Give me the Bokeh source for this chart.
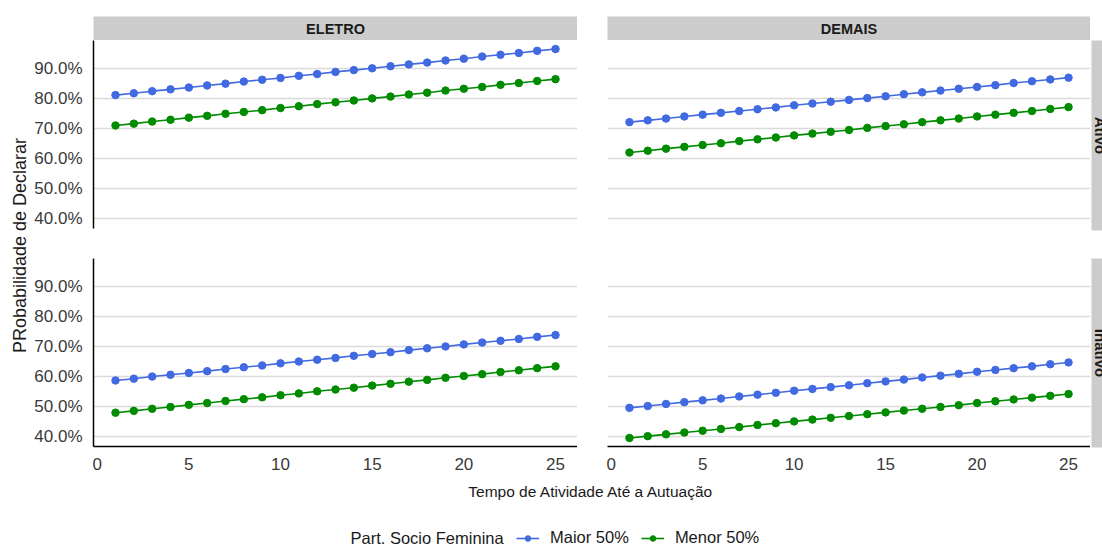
import math
from bokeh.plotting import figure
from bokeh.models import (Range1d, FixedTicker, PrintfTickFormatter, Label, Legend,
                          LegendItem, Spacer)
from bokeh.layouts import column, row
from bokeh.embed import file_html
from bokeh.resources import INLINE

# ---------------- data ----------------
TEMPO = [1, 2, 3, 4, 5, 6, 7, 8, 9, 10, 11, 12, 13, 14, 15, 16, 17, 18, 19, 20, 21, 22, 23, 24, 25]

eletro_ativo_maior = [81.1, 81.7, 82.4, 83.0, 83.6, 84.3, 84.9, 85.6, 86.2, 86.8, 87.5, 88.1, 88.8,
                      89.4, 90.0, 90.7, 91.3, 91.9, 92.6, 93.2, 93.9, 94.5, 95.1, 95.8, 96.4]
eletro_ativo_menor = [71.0, 71.6, 72.3, 72.9, 73.6, 74.2, 74.9, 75.5, 76.1, 76.8, 77.4, 78.1, 78.7,
                      79.3, 80.0, 80.6, 81.3, 81.9, 82.6, 83.2, 83.8, 84.5, 85.1, 85.8, 86.4]
demais_ativo_maior = [72.1, 72.7, 73.3, 74.0, 74.6, 75.2, 75.8, 76.4, 77.0, 77.7, 78.3, 78.9, 79.5,
                      80.1, 80.7, 81.4, 82.0, 82.6, 83.2, 83.8, 84.4, 85.1, 85.7, 86.3, 86.9]
demais_ativo_menor = [62.0, 62.6, 63.3, 63.9, 64.5, 65.1, 65.8, 66.4, 67.0, 67.7, 68.3, 68.9, 69.5,
                      70.2, 70.8, 71.4, 72.1, 72.7, 73.3, 74.0, 74.6, 75.2, 75.8, 76.5, 77.1]
eletro_inativo_maior = [58.7, 59.3, 60.0, 60.6, 61.2, 61.8, 62.5, 63.1, 63.7, 64.4, 65.0, 65.6, 66.2,
                        66.9, 67.5, 68.1, 68.8, 69.4, 70.0, 70.7, 71.3, 71.9, 72.5, 73.2, 73.8]
eletro_inativo_menor = [48.0, 48.6, 49.3, 49.9, 50.6, 51.2, 51.9, 52.5, 53.1, 53.8, 54.4, 55.1, 55.7,
                        56.3, 57.0, 57.6, 58.3, 58.9, 59.6, 60.2, 60.8, 61.5, 62.1, 62.8, 63.4]
demais_inativo_maior = [49.6, 50.2, 50.9, 51.5, 52.1, 52.7, 53.4, 54.0, 54.6, 55.3, 55.9, 56.5, 57.1,
                        57.8, 58.4, 59.0, 59.7, 60.3, 60.9, 61.6, 62.2, 62.8, 63.4, 64.1, 64.7]
demais_inativo_menor = [39.6, 40.2, 40.8, 41.4, 42.0, 42.6, 43.2, 43.9, 44.5, 45.1, 45.7, 46.3, 46.9,
                        47.5, 48.1, 48.7, 49.3, 49.9, 50.5, 51.2, 51.8, 52.4, 53.0, 53.6, 54.2]

COLUMNS = ["ELETRO", "DEMAIS"]
ROWS = ["Ativo", "Inativo"]
SERIES = ["Maior 50%", "Menor 50%"]
LEGEND_TITLE = "Part. Socio Feminina"
X_TITLE = "Tempo de Atividade Até a Autuação"
Y_TITLE = "PRobabilidade de Declarar"
X_TICKS = [0, 5, 10, 15, 20, 25]
Y_TICKS = [40, 50, 60, 70, 80, 90]

PANEL_DATA = {
    ("ELETRO", "Ativo"): (eletro_ativo_maior, eletro_ativo_menor),
    ("DEMAIS", "Ativo"): (demais_ativo_maior, demais_ativo_menor),
    ("ELETRO", "Inativo"): (eletro_inativo_maior, eletro_inativo_menor),
    ("DEMAIS", "Inativo"): (demais_inativo_maior, demais_inativo_menor),
}

# ---------------- styles ----------------
COLORS = ["#4169E1", "#008B00"]
FONT = "Liberation Sans"
STRIP = "#CCCCCC"
GRID = "#DADADA"
TICK_COLOR = "#3A3A3A"
TEXT_COLOR = "#1A1A1A"

all_vals = [v for pair in PANEL_DATA.values() for s in pair for v in s]
ymin, ymax = min(all_vals), max(all_vals)
ypad = (ymax - ymin) * 0.05
xmin, xmax = min(TEMPO), max(TEMPO)
xpad = (xmax - xmin) * 0.05

LEFT_W, RIGHT_W = 549, 513
TOP_H, BOT_H = 218, 224
TOTAL_W = 1102


def base_fig(width, height, **kw):
    return figure(width=width, height=height, toolbar_location=None, output_backend="svg",
                  title=None, **kw)


def panel(col, rw):
    left = col == COLUMNS[0]
    bottom = rw == ROWS[1]
    p = base_fig(LEFT_W if left else RIGHT_W, BOT_H if bottom else TOP_H,
                 x_range=Range1d(xmin - xpad, xmax + xpad),
                 y_range=Range1d(ymin - ypad, ymax + ypad),
                 x_axis_location="below" if bottom else None,
                 y_axis_location="left" if left else None,
                 min_border_left=65 if left else 30, min_border_right=0,
                 min_border_top=0, min_border_bottom=36 if bottom else 30)
    p.outline_line_color = None
    p.background_fill_color = "white"
    p.border_fill_color = "white"
    p.xgrid.visible = False
    p.ygrid.ticker = FixedTicker(ticks=Y_TICKS)
    p.ygrid.grid_line_color = GRID
    p.ygrid.grid_line_width = 1.5
    for ax in list(p.xaxis) + list(p.yaxis):
        ax.axis_line_color = "black"
        ax.axis_line_width = 1.5
        ax.major_tick_out = 0
        ax.major_tick_in = 0
        ax.minor_tick_out = 0
        ax.minor_tick_in = 0
        ax.major_label_text_font = FONT
        ax.major_label_text_font_size = "17px"
        ax.major_label_text_color = TICK_COLOR
        ax.major_label_standoff = 11
    if bottom:
        p.xaxis.ticker = FixedTicker(ticks=X_TICKS)
    if left:
        p.yaxis.ticker = FixedTicker(ticks=Y_TICKS)
        p.yaxis.formatter = PrintfTickFormatter(format="%.1f%%")
    for vals, color in zip(PANEL_DATA[(col, rw)], COLORS):
        p.line(TEMPO, vals, line_color=color, line_width=1.6)
        p.scatter(TEMPO, vals, size=7.5, fill_color=color, line_color=color)
    return p


def strip_top(text, width):
    p = base_fig(width, 24, x_range=Range1d(0, 1), y_range=Range1d(0, 1),
                 x_axis_location=None, y_axis_location=None, min_border=0)
    p.grid.visible = False
    p.outline_line_color = None
    p.background_fill_color = STRIP
    p.border_fill_color = STRIP
    p.add_layout(Label(x=0.5, y=0.5, text=text, text_align="center", text_baseline="middle",
                       text_font=FONT, text_font_style="bold", text_font_size="14.5px",
                       text_color=TEXT_COLOR))
    return p


def strip_right(text, height, bottom_border):
    p = base_fig(12, height, x_range=Range1d(0, 11), y_range=Range1d(0, 1),
                 x_axis_location=None, y_axis_location=None, min_border_left=1,
                 min_border_right=0, min_border_top=0, min_border_bottom=bottom_border)
    p.grid.visible = False
    p.outline_line_color = None
    p.background_fill_color = STRIP
    p.border_fill_color = "white"
    p.add_layout(Label(x=8.5, y=0.5, text=text, angle=-math.pi / 2, text_align="center",
                       text_baseline="middle", text_font=FONT, text_font_style="bold",
                       text_font_size="15px", text_color=TEXT_COLOR))
    return p


# y-axis title column
ytitle = base_fig(28, TOP_H + BOT_H, x_range=Range1d(0, 28), y_range=Range1d(0, TOP_H + BOT_H),
                  x_axis_location=None, y_axis_location=None, min_border=0)
ytitle.grid.visible = False
ytitle.outline_line_color = None
ytitle.add_layout(Label(x=19, y=237, text=Y_TITLE, angle=math.pi / 2, text_align="center",
                        text_baseline="middle", text_font=FONT, text_font_size="18px",
                        text_color=TEXT_COLOR))

# x-axis title row
xtitle = base_fig(TOTAL_W, 24, x_range=Range1d(0, TOTAL_W), y_range=Range1d(0, 24),
                  x_axis_location=None, y_axis_location=None, min_border=0)
xtitle.grid.visible = False
xtitle.outline_line_color = None
xtitle.add_layout(Label(x=591, y=15, text=X_TITLE, text_align="center", text_baseline="middle",
                        text_font=FONT, text_font_size="15.5px", text_color=TEXT_COLOR))

# legend row
LEG_H = 41
leg = base_fig(TOTAL_W, LEG_H, x_range=Range1d(0, TOTAL_W), y_range=Range1d(0, LEG_H),
               x_axis_location=None, y_axis_location=None, min_border=0)
leg.grid.visible = False
leg.outline_line_color = None
leg.add_layout(Label(x=350, y=10, text=LEGEND_TITLE, text_align="left", text_baseline="middle",
                     text_font=FONT, text_font_size="16.5px", text_color=TEXT_COLOR))
items = []
for name, color in zip(SERIES, COLORS):
    # hidden (NaN) renderers used only to draw the legend keys
    r1 = leg.line(x=[float("nan")], y=[float("nan")], line_color=color, line_width=1.6)
    r2 = leg.scatter(x=[float("nan")], y=[float("nan")], size=7.5, fill_color=color,
                     line_color=color)
    items.append(LegendItem(label=name, renderers=[r1, r2]))
legend = Legend(items=items, orientation="horizontal", location=(516, 0), padding=0, margin=0,
                spacing=12, glyph_width=23, glyph_height=14, label_height=14, label_standoff=11,
                label_text_font=FONT, label_text_font_size="16.5px", label_text_color=TEXT_COLOR,
                border_line_color=None, background_fill_alpha=0)
leg.add_layout(legend, "center")

TL = panel("ELETRO", "Ativo")
TR = panel("DEMAIS", "Ativo")
BL = panel("ELETRO", "Inativo")
BR = panel("DEMAIS", "Inativo")

layout = column(
    Spacer(width=TOTAL_W, height=16),
    row(Spacer(width=93, height=24), strip_top(COLUMNS[0], 484), Spacer(width=30, height=24),
        strip_top(COLUMNS[1], 483), Spacer(width=12, height=24)),
    row(ytitle, column(TL, BL), column(TR, BR),
        column(strip_right(ROWS[0], TOP_H, 28), strip_right(ROWS[1], BOT_H, 35))),
    xtitle,
    leg,
)

open("out.html", "w").write(file_html(layout, INLINE))
